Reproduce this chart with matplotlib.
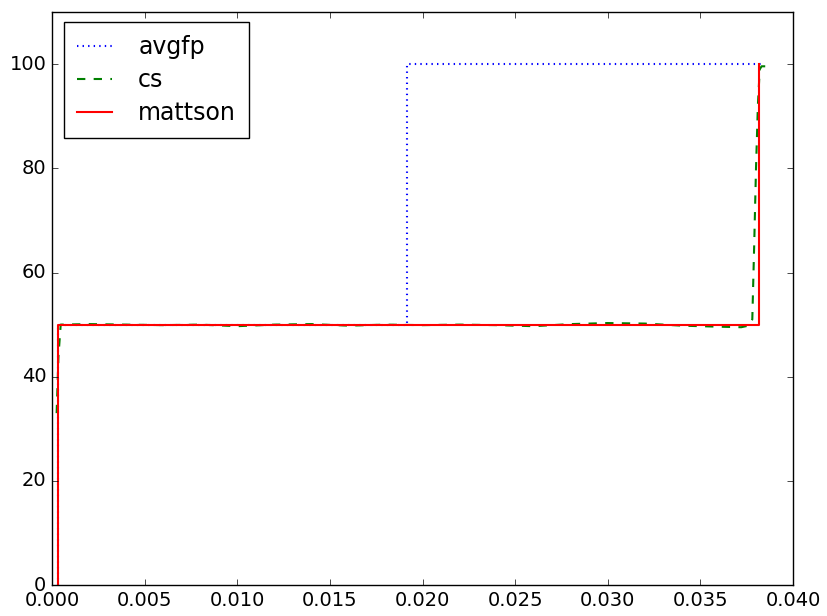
import matplotlib
matplotlib.use('Agg')
import matplotlib.pyplot as plt

# avgfp: step from 50 to 100 around 0.0192
avgfp_x = [0.00032, 0.00032, 0.01918, 0.01918, 0.03830]
avgfp_y = [0.0, 50.0, 50.0, 100.0, 100.0]

# cs: noisy curve hovering around 50, then climbing near 0.038
cs_x = [0.00025, 0.00035, 0.00047, 0.002, 0.004, 0.006, 0.008, 0.010, 0.012,
        0.014, 0.016, 0.018, 0.020, 0.022, 0.024, 0.026, 0.028, 0.030,
        0.032, 0.034, 0.036, 0.0372, 0.0376, 0.0378, 0.0379, 0.0380,
        0.0381, 0.0382, 0.0383, 0.0386]
cs_y = [33.0, 44.0, 50.0, 50.1, 50.0, 49.9, 50.0, 49.7, 50.0,
        50.1, 49.8, 50.0, 49.9, 50.0, 49.9, 49.7, 50.1, 50.3,
        50.2, 49.8, 49.6, 49.5, 49.8, 51.0, 65.0, 80.0,
        92.0, 99.0, 99.6, 99.6]

# mattson: sharp steps at 0.0003 and 0.0382
mattson_x = [0.00032, 0.00032, 0.03816, 0.03816]
mattson_y = [0.0, 50.0, 50.0, 100.0]

plt.style.use('classic')
fig = plt.figure(figsize=(8.28, 6.16), dpi=100)
ax = fig.add_axes([0.0628, 0.0503, 0.895, 0.930])

ax.plot(avgfp_x, avgfp_y, ':', color='b', lw=1.5, label='avgfp')
ax.plot(cs_x, cs_y, '--', color='g', lw=1.5, label='cs')
ax.plot(mattson_x, mattson_y, '-', color='r', lw=1.5, label='mattson')

ax.set_xlim(0, 0.040)
ax.set_ylim(0, 110)
ax.set_xticks([0.000, 0.005, 0.010, 0.015, 0.020, 0.025, 0.030, 0.035, 0.040])
ax.set_xticklabels(['0.000', '0.005', '0.010', '0.015', '0.020', '0.025',
                    '0.030', '0.035', '0.040'])
ax.set_yticks([0, 20, 40, 60, 80, 100])
ax.tick_params(labelsize=14)

ax.legend(loc='upper left', bbox_to_anchor=(0.016, 0.9825), borderaxespad=0,
          fontsize=17, handlelength=1.5, handletextpad=1.1,
          borderpad=0.55, labelspacing=0.38, numpoints=1)

fig.savefig('out.png', dpi=100)
